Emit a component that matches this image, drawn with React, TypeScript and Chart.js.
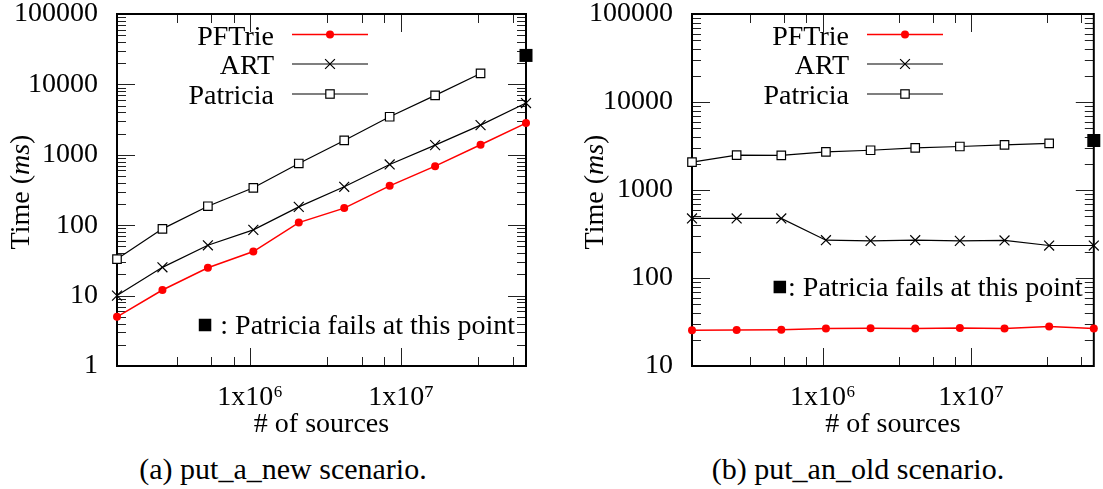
import React, { useEffect, useRef } from 'react';
import { Chart, registerables } from 'chart.js';

Chart.register(...registerables);

// ---------- data ----------
const SOURCES = [131072, 262144, 524288, 1048576, 2097152, 4194304, 8388608, 16777216, 33554432, 67108864];

const NEW_PFTRIE = [5.0, 12.0, 24.9, 42.2, 109, 175, 362, 690, 1387, 2820];
const NEW_ART = [10, 25.2, 51.9, 85.8, 182, 351, 729, 1372, 2640, 5430];
const NEW_PATRICIA = [33, 88.7, 186, 340, 753, 1600, 3470, 6980, 14300, null];
const NEW_FAIL = [null, null, null, null, null, null, null, null, null, 25800];

const OLD_PFTRIE = [25.5, 25.6, 25.9, 26.7, 26.9, 26.7, 27.1, 26.7, 28.1, 26.7];
const OLD_ART = [475, 475, 475, 269, 264, 269, 264, 267, 234, 234];
const OLD_PATRICIA = [2070, 2485, 2475, 2710, 2830, 3010, 3120, 3260, 3380, null];
const OLD_FAIL = [null, null, null, null, null, null, null, null, null, 3650];

const SERIES_NAMES = ['PFTrie', 'ART', 'Patricia'];
const X_MIN = 131072;
const X_MAX = 67108864;
const X_MAJOR = [1e6, 1e7];
const X_MAJOR_LABELS = ['1x10\u2076', '1x10\u2077'];
const X_MINOR = [3.25e5, 5.5e5, 7.75e5, 3.25e6, 5.5e6, 7.75e6, 3.25e7, 5.5e7];
const Y_MAJOR_NEW = [1, 10, 100, 1000, 10000, 100000];
const Y_MAJOR_OLD = [10, 100, 1000, 10000, 100000];
const Y_MINOR_STEPS = [2, 3, 4, 5, 6, 7, 8, 9];
const Y_TITLE_PARTS = ['Time (', 'ms', ')'];
const X_TITLE = '# of sources';
const NOTE_TEXT = ': Patricia fails at this point';
const CAPTIONS = ['(a) put_a_new scenario.', '(b) put_an_old scenario.'];

// ---------- style ----------
const FONT = '"Liberation Serif", "Times New Roman", serif';
const RED = 'rgb(255,0,0)';
const BLACK = '#000';
const H = 441;

type Panel = {
  pft: (number | null)[];
  art: (number | null)[];
  pat: (number | null)[];
  fail: (number | null)[];
  yMajor: number[];
  left: number;
  width: number;
  axisWidth: number;
  padRight: number;
  titleX: number;
  noteBaseline: number;
  noteGap: number;
};

const PANELS: Panel[] = [
  { pft: NEW_PFTRIE, art: NEW_ART, pat: NEW_PATRICIA, fail: NEW_FAIL, yMajor: Y_MAJOR_NEW,
    left: 0, width: 552, axisWidth: 117, padRight: 26, titleX: 21.5, noteBaseline: 334, noteGap: 9 },
  { pft: OLD_PFTRIE, art: OLD_ART, pat: OLD_PATRICIA, fail: OLD_FAIL, yMajor: Y_MAJOR_OLD,
    left: 552, width: 551, axisWidth: 140, padRight: 3, titleX: 43.5, noteBaseline: 296, noteGap: 2 },
];

function drawMarker(ctx: CanvasRenderingContext2D, kind: number, x: number, y: number) {
  ctx.save();
  if (kind === 0) {
    ctx.fillStyle = RED;
    ctx.beginPath();
    ctx.arc(x, y, 4, 0, Math.PI * 2);
    ctx.fill();
  } else if (kind === 1) {
    ctx.strokeStyle = BLACK;
    ctx.lineWidth = 1.2;
    const r = 4.9;
    ctx.beginPath();
    ctx.moveTo(x - r, y - r); ctx.lineTo(x + r, y + r);
    ctx.moveTo(x - r, y + r); ctx.lineTo(x + r, y - r);
    ctx.stroke();
  } else {
    ctx.fillStyle = '#fff';
    ctx.strokeStyle = BLACK;
    ctx.lineWidth = 1.2;
    ctx.fillRect(x - 4.2, y - 4.2, 8.4, 8.4);
    ctx.strokeRect(x - 4.2, y - 4.2, 8.4, 8.4);
  }
  ctx.restore();
}

function framePlugin(p: Panel) {
  return {
    id: 'gnuframe',
    beforeDatasetsDraw(chart: any) {
      const { ctx, chartArea: a, scales } = chart;
      const xs = scales.x;
      const ys = scales.y;
      ctx.save();
      ctx.strokeStyle = '#222';
      ctx.lineWidth = 1;
      ctx.beginPath();
      for (const t of xs.ticks) {
        const px = Math.round(xs.getPixelForValue(t.value)) + 0.5;
        const len = X_MAJOR.includes(t.value) ? 18 : 9;
        ctx.moveTo(px, a.bottom); ctx.lineTo(px, a.bottom - len);
        ctx.moveTo(px, a.top); ctx.lineTo(px, a.top + len);
      }
      for (const t of ys.ticks) {
        const py = Math.round(ys.getPixelForValue(t.value)) + 0.5;
        const len = p.yMajor.includes(t.value) ? 18 : 9;
        ctx.moveTo(a.left, py); ctx.lineTo(a.left + len, py);
        ctx.moveTo(a.right, py); ctx.lineTo(a.right - len, py);
      }
      ctx.stroke();
      ctx.strokeStyle = BLACK;
      ctx.lineWidth = 2;
      ctx.strokeRect(a.left, a.top, a.right - a.left, a.bottom - a.top);
      ctx.restore();
    },
    afterDraw(chart: any) {
      const { ctx, chartArea: a } = chart;
      ctx.save();
      ctx.fillStyle = BLACK;
      ctx.font = `28px ${FONT}`;
      // legend
      const rows = [20.5, 50, 80];
      SERIES_NAMES.forEach((name, i) => {
        const y = a.top + rows[i];
        ctx.textAlign = 'right';
        ctx.textBaseline = 'alphabetic';
        ctx.fillText(name, a.left + 157, y + 10);
        ctx.strokeStyle = i === 0 ? RED : BLACK;
        ctx.lineWidth = i === 0 ? 1.5 : 1.2;
        ctx.beginPath();
        ctx.moveTo(a.left + 175, y);
        ctx.lineTo(a.left + 251, y);
        ctx.stroke();
        drawMarker(ctx, i, a.left + 213, y);
      });
      // note
      ctx.textAlign = 'right';
      ctx.textBaseline = 'alphabetic';
      const noteRight = a.right - 11;
      ctx.fillText(NOTE_TEXT, noteRight, p.noteBaseline);
      const w = ctx.measureText(NOTE_TEXT).width;
      const sq = 12.5;
      const sx = noteRight - w - p.noteGap - sq;
      ctx.fillRect(sx, p.noteBaseline - 9 - sq / 2, sq, sq);
      // y title with italic unit
      ctx.translate(p.titleX, 192);
      ctx.rotate(-Math.PI / 2);
      ctx.textAlign = 'left';
      ctx.textBaseline = 'middle';
      const fonts = [`28px ${FONT}`, `italic 28px ${FONT}`, `28px ${FONT}`];
      const widths = Y_TITLE_PARTS.map((s, i) => { ctx.font = fonts[i]; return ctx.measureText(s).width; });
      let x = -widths.reduce((s, v) => s + v, 0) / 2;
      Y_TITLE_PARTS.forEach((s, i) => { ctx.font = fonts[i]; ctx.fillText(s, x, 0); x += widths[i]; });
      ctx.restore();
    },
  };
}

function pts(arr: (number | null)[]) {
  return arr.map((v, i) => ({ x: SOURCES[i], y: v })).filter((d) => d.y !== null);
}

function buildChart(canvas: HTMLCanvasElement, p: Panel) {
  const font = { family: FONT, size: 28 };
  const yMinor: number[] = [];
  p.yMajor.slice(0, -1).forEach((m) => Y_MINOR_STEPS.forEach((s) => yMinor.push(m * s)));
  return new Chart(canvas, {
    type: 'line',
    data: {
      datasets: [
        { label: SERIES_NAMES[0], data: pts(p.pft), borderColor: RED, backgroundColor: RED,
          pointStyle: 'circle', pointRadius: 4, pointBorderWidth: 0, borderWidth: 1.5, clip: false },
        { label: SERIES_NAMES[1], data: pts(p.art), borderColor: BLACK, backgroundColor: BLACK,
          pointStyle: 'crossRot', pointRadius: 7, pointBorderWidth: 1.2, borderWidth: 1.2, clip: false },
        { label: SERIES_NAMES[2], data: pts(p.pat), borderColor: BLACK, backgroundColor: '#fff',
          pointBackgroundColor: '#fff', pointStyle: 'rect', pointRadius: 6, pointBorderWidth: 1.2,
          borderWidth: 1.2, clip: false },
        { label: 'fail', data: pts(p.fail), showLine: false, borderColor: BLACK, backgroundColor: BLACK,
          pointBackgroundColor: BLACK, pointStyle: 'rect', pointRadius: 9.2, pointBorderWidth: 0, clip: false },
      ] as any,
    },
    options: {
      animation: false,
      responsive: false,
      devicePixelRatio: 1,
      layout: { padding: { top: 14, right: p.padRight, bottom: 0, left: 0 } },
      plugins: { legend: { display: false }, tooltip: { enabled: false }, title: { display: false } },
      elements: { line: { tension: 0 } },
      scales: {
        x: {
          type: 'logarithmic', min: X_MIN, max: X_MAX, position: 'bottom',
          grid: { display: false, drawTicks: false }, border: { display: false },
          ticks: {
            autoSkip: false, maxRotation: 0, minRotation: 0, padding: 15, color: BLACK, font,
            callback: (v: any) => { const i = X_MAJOR.indexOf(Number(v)); return i >= 0 ? X_MAJOR_LABELS[i] : ''; },
          },
          title: { display: true, text: X_TITLE, color: BLACK, font, padding: { top: 0, bottom: 0 } },
          afterBuildTicks: (s: any) => {
            s.ticks = [...X_MAJOR, ...X_MINOR].sort((a, b) => a - b).map((v) => ({ value: v, major: X_MAJOR.includes(v) }));
          },
          afterFit: (s: any) => { s.height = H - 366; s.paddingLeft = 0; s.paddingRight = 0; },
        },
        y: {
          type: 'logarithmic', min: p.yMajor[0], max: p.yMajor[p.yMajor.length - 1], position: 'left',
          grid: { display: false, drawTicks: false }, border: { display: false },
          ticks: {
            autoSkip: false, padding: 19, color: BLACK, font,
            callback: (v: any) => (p.yMajor.includes(Number(v)) ? String(v) : ''),
          },
          afterBuildTicks: (s: any) => {
            s.ticks = [...p.yMajor, ...yMinor].sort((a, b) => a - b).map((v) => ({ value: v, major: p.yMajor.includes(v) }));
          },
          afterFit: (s: any) => { s.width = p.axisWidth; s.paddingTop = 0; s.paddingBottom = 0; },
        },
      },
    } as any,
    plugins: [framePlugin(p)],
  });
}

function PanelChart({ p }: { p: Panel }) {
  const ref = useRef<HTMLCanvasElement>(null);
  useEffect(() => {
    if (!ref.current) return;
    const c = buildChart(ref.current, p);
    return () => c.destroy();
  }, [p]);
  return (
    <canvas
      ref={ref}
      width={p.width}
      height={H}
      style={{ position: 'absolute', left: p.left, top: 0, width: p.width, height: H }}
    />
  );
}

export default function App() {
  return (
    <div style={{ position: 'fixed', left: 0, top: 0, width: 1103, height: 489, background: '#fff', overflow: 'hidden' }}>
      {PANELS.map((p, i) => (
        <PanelChart key={i} p={p} />
      ))}
      {CAPTIONS.map((c, i) => (
        <div
          key={c}
          style={{
            position: 'absolute', top: 454, left: i === 0 ? 283 - 200 : 858 - 200, width: 400,
            textAlign: 'center', fontFamily: FONT, fontSize: 30, lineHeight: '30px', color: BLACK, whiteSpace: 'nowrap',
          }}
        >
          {c}
        </div>
      ))}
    </div>
  );
}
